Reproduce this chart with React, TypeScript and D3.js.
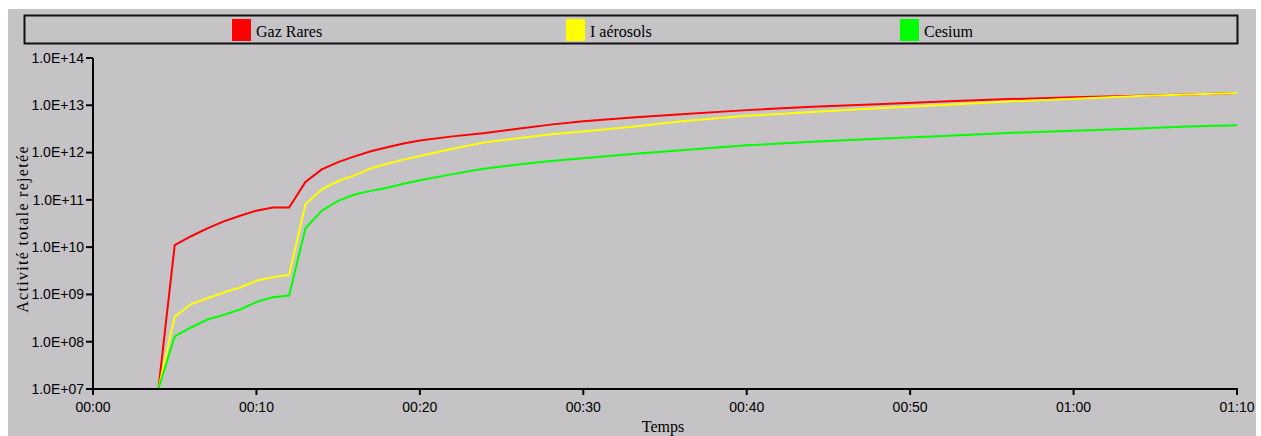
import React from "react";
import * as d3 from "d3";

const minutes = [4, 5, 6, 7, 8, 9, 10, 11, 12, 13, 14, 15, 16, 17, 18, 19, 20, 22, 24, 26, 28, 30, 33, 36, 40, 44, 48, 52, 56, 60, 64, 67, 70];

const gazRares = [1e7, 1.1e10, 1.7e10, 2.5e10, 3.5e10, 4.6e10, 5.9e10, 6.9e10, 6.9e10, 2.4e11, 4.4e11, 6.3e11, 8.3e11, 1.07e12, 1.3e12, 1.55e12, 1.8e12, 2.2e12, 2.6e12, 3.2e12, 3.9e12, 4.6e12, 5.5e12, 6.5e12, 7.9e12, 9.3e12, 1.05e13, 1.2e13, 1.35e13, 1.48e13, 1.6e13, 1.7e13, 1.82e13];

const iAerosols = [1e7, 3.4e8, 6.2e8, 8.3e8, 1.1e9, 1.4e9, 1.95e9, 2.3e9, 2.6e9, 8.1e10, 1.66e11, 2.5e11, 3.3e11, 4.6e11, 5.8e11, 7.1e11, 8.5e11, 1.2e12, 1.66e12, 2.0e12, 2.45e12, 2.8e12, 3.5e12, 4.6e12, 6.0e12, 7.2e12, 8.7e12, 1.02e13, 1.2e13, 1.38e13, 1.58e13, 1.7e13, 1.82e13];

const cesium = [1e7, 1.3e8, 2.0e8, 2.95e8, 3.7e8, 4.8e8, 6.9e8, 8.7e8, 9.5e8, 2.5e10, 5.9e10, 9.5e10, 1.3e11, 1.55e11, 1.8e11, 2.2e11, 2.6e11, 3.5e11, 4.6e11, 5.6e11, 6.6e11, 7.6e11, 9.3e11, 1.12e12, 1.42e12, 1.7e12, 1.95e12, 2.24e12, 2.6e12, 2.9e12, 3.24e12, 3.55e12, 3.8e12];

const seriesNames = ["Gaz Rares", "I aérosols", "Cesium"];
const seriesColors = ["#ff0000", "#ffff00", "#00ff00"];

const yTickValues = [1e7, 1e8, 1e9, 1e10, 1e11, 1e12, 1e13, 1e14];
const yTickLabels = ["1.0E+07", "1.0E+08", "1.0E+09", "1.0E+10", "1.0E+11", "1.0E+12", "1.0E+13", "1.0E+14"];
const xTickValues = [0, 10, 20, 30, 40, 50, 60, 70];
const xTickLabels = ["00:00", "00:10", "00:20", "00:30", "00:40", "00:50", "01:00", "01:10"];

export default function App() {
  const W = 1261;
  const H = 436;
  const left = 93;
  const right = 1237;
  const top = 58;
  const bottom = 389;

  const x = d3.scaleLinear().domain([0, 70]).range([left, right]);
  const y = d3.scaleLog().domain([1e7, 1e14]).range([bottom, top]);

  const allSeries = [gazRares, iAerosols, cesium];
  const line = d3
    .line<number>()
    .x((_, i) => x(minutes[i]))
    .y((v) => y(v));

  const legendX = [232, 566, 900];
  const sans = "'Liberation Sans', Arial, sans-serif";
  const serif = "'Liberation Serif', 'Times New Roman', serif";

  return (
    <svg
      width={W}
      height={H}
      style={{ position: "absolute", left: 0, top: 0, display: "block" }}
    >
      <rect x={8} y={9} width={1248} height={H - 9} fill="#c5c3c6" />
      {/* legend */}
      <rect x={24.5} y={15.5} width={1213} height={28} fill="none" stroke="#111" strokeWidth={2} />
      {seriesNames.map((n, i) => (
        <g key={n}>
          <rect x={legendX[i]} y={19} width={19} height={22} fill={seriesColors[i]} />
          <text x={legendX[i] + 24} y={37} fontFamily={serif} fontSize={16} fill="#000">
            {n}
          </text>
        </g>
      ))}
      {/* series */}
      {allSeries.map((s, i) => (
        <path
          key={i}
          d={line(s) || ""}
          fill="none"
          stroke={seriesColors[i]}
          strokeWidth={2}
          strokeLinejoin="miter"
        />
      ))}
      {/* axes */}
      <line x1={left} x2={left} y1={top} y2={bottom + 1} stroke="#000" strokeWidth={2} />
      <line x1={left - 1} x2={right + 1} y1={bottom} y2={bottom} stroke="#000" strokeWidth={2} />
      {yTickValues.map((v, i) => (
        <g key={v}>
          <line x1={left - 7} x2={left} y1={y(v)} y2={y(v)} stroke="#000" strokeWidth={2} />
          <text
            x={left - 9}
            y={y(v)}
            dy="0.35em"
            textAnchor="end"
            fontFamily={sans}
            fontSize={14}
            fill="#000"
          >
            {yTickLabels[i]}
          </text>
        </g>
      ))}
      {xTickValues.map((v, i) => (
        <g key={v}>
          <line x1={x(v)} x2={x(v)} y1={bottom} y2={bottom + 6} stroke="#000" strokeWidth={2} />
          <text
            x={x(v)}
            y={412}
            textAnchor="middle"
            fontFamily={sans}
            fontSize={14}
            fill="#000"
          >
            {xTickLabels[i]}
          </text>
        </g>
      ))}
      <text x={663} y={432} textAnchor="middle" fontFamily={serif} fontSize={16} fill="#000">
        Temps
      </text>
      <text
        transform="translate(28,229) rotate(-90)"
        textAnchor="middle"
        fontFamily={serif}
        fontSize={16}
        letterSpacing={1.3}
        fill="#000"
      >
        Activité totale rejetée
      </text>
    </svg>
  );
}
